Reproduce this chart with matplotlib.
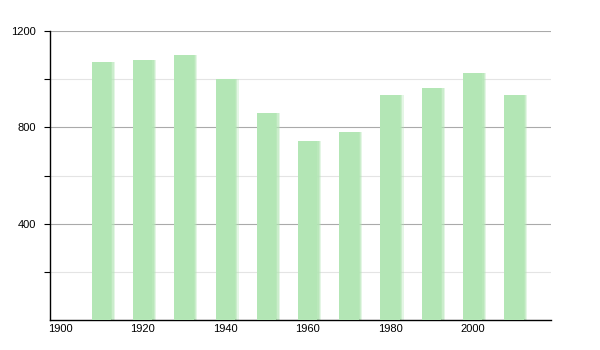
import matplotlib
matplotlib.use("Agg")
import matplotlib.pyplot as plt
from matplotlib.ticker import FixedLocator

years = [1910, 1920, 1930, 1940, 1950, 1960, 1970, 1980, 1990, 2000, 2010]
population = [1071, 1080, 1100, 1000, 861, 745, 782, 934, 965, 1024, 933]
x_tick_labels = ["1900", "1920", "1940", "1960", "1980", "2000"]
y_major = [400, 800, 1200]
y_minor = [200, 600, 1000]

plt.rcParams['font.family'] = ['Liberation Sans', 'DejaVu Sans']

fig = plt.figure(figsize=(6, 3.5), dpi=100)
ax = fig.add_axes([50/600, 30/350, 501/600, 289/350])

bar_color = "#b3e6b5"
width = 4.7
# soft shadow on right edge
for off, a in [(0.9, 0.35), (0.6, 0.5), (0.3, 0.7)]:
    ax.bar([y + off for y in years], population, width=width, color=bar_color,
           alpha=a, linewidth=0, zorder=2)
ax.bar(years, population, width=width, color=bar_color, linewidth=0, zorder=3)

ax.set_xlim(1897.5, 2019)
ax.set_ylim(0, 1200)

ax.yaxis.set_major_locator(FixedLocator(y_major))
ax.yaxis.set_minor_locator(FixedLocator(y_minor))
ax.set_yticklabels([str(v) for v in y_major])
ax.set_xticks([int(t) for t in x_tick_labels])
ax.set_xticklabels(x_tick_labels)

ax.grid(axis='y', which='major', color='#aaaaaa', linewidth=0.8, zorder=0)
ax.grid(axis='y', which='minor', color='#e4e4e4', linewidth=0.8, zorder=0)
ax.set_axisbelow(True)

for s in ['top', 'right']:
    ax.spines[s].set_visible(False)
ax.spines['left'].set_linewidth(1.0)
ax.spines['bottom'].set_linewidth(1.0)

ax.tick_params(axis='y', which='both', length=4, width=0.8, labelsize=8, pad=6)
ax.tick_params(axis='x', which='both', length=0, labelsize=8, pad=3)

fig.savefig("out.png", dpi=100, facecolor='white')
